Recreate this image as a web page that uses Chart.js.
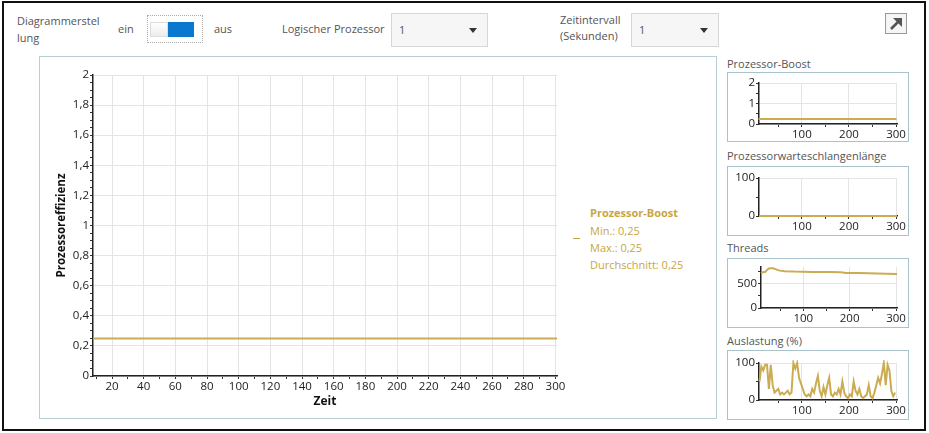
<!DOCTYPE html>
<html lang="de">
<head>
<meta charset="utf-8">
<script src="https://cdn.jsdelivr.net/npm/chart.js@4.4.0/dist/chart.umd.min.js"></script>
<style>
  body { margin: 0; width: 929px; height: 433px; overflow: hidden; background: #fff;
         font-family: "Open Sans", sans-serif; font-size: 11px; color: #555; }
  .abs { position: absolute; }
  .rahmen { left: 2px; top: 1px; width: 924px; height: 430px; border: 2px solid #111; box-sizing: border-box; }
  .txt { position: absolute; white-space: nowrap; line-height: 16px; }
  .auswahl { position: absolute; top: 13px; height: 34px; border: 1px solid #d6d6d6; background: #f6f6f6; box-sizing: border-box; }
  .auswahl span { position: absolute; left: 7px; top: 8px; color: #555; }
  .auswahl i { position: absolute; right: 10px; top: 14px; width: 0; height: 0;
               border-left: 4px solid transparent; border-right: 4px solid transparent; border-top: 5px solid #333; }
  .panel { position: absolute; left: 39px; top: 56px; width: 678px; height: 363px; border: 1px solid #b9cdd5; box-sizing: border-box; }
  .box { position: absolute; left: 727px; width: 182px; height: 70px; border: 1px solid #a9c3cd; box-sizing: border-box; }
  .box div { position: absolute; left: 0; top: 0; width: 180px; height: 68px; }
  .boxtitel { position: absolute; left: 727px; color: #555; }
  .legende { position: absolute; left: 590px; color: #c8a640; line-height: 17px; }
</style>
</head>
<body>
<div class="abs rahmen"></div>

<div class="txt" style="left:17px; top:13px;">Diagrammerstel</div>
<div class="txt" style="left:17px; top:30px;">lung</div>
<div class="txt" style="left:118px; top:21px;">ein</div>
<div class="abs" style="left:147px; top:15px; width:56px; height:28px; border:1px dotted #aaa; box-sizing:border-box;"></div>
<div class="abs" style="left:150px; top:22px; width:18px; height:15px; border:1px solid #ddd; box-sizing:border-box; background:linear-gradient(#fff,#ececec);"></div>
<div class="abs" style="left:168px; top:22px; width:26px; height:15px; background:#0a78cf;"></div>
<div class="txt" style="left:214px; top:21px;">aus</div>
<div class="txt" style="left:282px; top:21px;">Logischer Prozessor</div>
<div class="auswahl" style="left:391px; width:97px;"><span>1</span><i></i></div>
<div class="txt" style="left:560px; top:12px;">Zeitintervall</div>
<div class="txt" style="left:560px; top:28px;">(Sekunden)</div>
<div class="auswahl" style="left:631px; width:88px;"><span>1</span><i></i></div>
<div class="abs" style="left:885px; top:13px; width:22px; height:21px; border:1px solid #999; box-sizing:border-box; background:#f5f5f5;">
  <svg width="20" height="19" viewBox="0 0 20 19">
    <line x1="5" y1="15" x2="14" y2="6" stroke="#555" stroke-width="2.6"/>
    <polygon points="7,4 16,4 16,13" fill="#555"/>
  </svg>
</div>

<div class="panel"></div>
<div class="abs" style="left:42px; top:58px; width:530px; height:356px;"><canvas id="hauptDiagramm"></canvas></div>

<div class="abs" style="left:573px; top:238px; width:7px; height:1px; background:#c8a640;"></div>
<div class="legende" style="top:204px; font-weight:bold;">Prozessor-Boost</div>
<div class="legende" style="top:222px;">Min.: 0,25</div>
<div class="legende" style="top:239px;">Max.: 0,25</div>
<div class="legende" style="top:256px;">Durchschnitt: 0,25</div>

<div class="boxtitel txt" style="top:56px;">Prozessor-Boost</div>
<div class="box" style="top:72px;"><div><canvas id="boostKlein"></canvas></div></div>
<div class="boxtitel txt" style="top:148px;">Prozessorwarteschlangenlänge</div>
<div class="box" style="top:166px;"><div><canvas id="warteKlein"></canvas></div></div>
<div class="boxtitel txt" style="top:240px;">Threads</div>
<div class="box" style="top:258px;"><div><canvas id="threadsKlein"></canvas></div></div>
<div class="boxtitel txt" style="top:333px;">Auslastung (%)</div>
<div class="box" style="top:350px;"><div><canvas id="auslastungKlein"></canvas></div></div>

<script>
// Daten
const zeitTicks = [20, 40, 60, 80, 100, 120, 140, 160, 180, 200, 220, 240, 260, 280, 300];
const effizienzTicks = [0, 0.2, 0.4, 0.6, 0.8, 1, 1.2, 1.4, 1.6, 1.8, 2];

const boostZeit = [8, 301];
const boostWerte = [0.25, 0.25];

const warteZeit = [9, 302];
const warteWerte = [0, 0];

const threadsZeit = [9, 14, 18, 22, 26, 30, 34, 38, 44, 50, 60, 80, 100, 120, 140, 160, 180, 186, 190, 200, 220, 240, 260, 280, 302];
const threadsWerte = [720, 745, 745, 790, 820, 825, 825, 815, 790, 775, 762, 755, 753, 748, 745, 745, 742, 738, 728, 726, 724, 720, 716, 712, 706];

const auslastungZeit = [10, 14, 18, 22, 26, 30, 34, 38, 42, 46, 50, 54, 58, 62, 66, 70, 74, 78, 82, 86, 90, 94, 98,
  102, 106, 110, 114, 118, 122, 126, 130, 134, 138, 142, 146, 150, 154, 158, 162, 166, 170, 174, 178, 182, 186, 190, 194, 198,
  202, 206, 210, 214, 218, 222, 226, 230, 234, 238, 242, 246, 250, 254, 258, 262, 266, 270, 274, 278, 282, 286, 290, 294, 298];
const auslastungWerte = [50, 90, 80, 95, 95, 30, 95, 40, 20, 25, 30, 15, 20, 15, 20, 25, 15, 20, 100, 85, 100, 60, 45,
  30, 15, 10, 15, 10, 30, 20, 45, 65, 25, 10, 35, 15, 40, 60, 15, 10, 20, 15, 30, 15, 50, 20, 10, 5,
  15, 10, 50, 25, 15, 30, 10, 5, 10, 15, 40, 10, 5, 20, 40, 60, 45, 70, 100, 40, 95, 80, 25, 10, 20];

const kleinZeitTicks = [100, 200, 300];
const boostKleinTicks = [0, 1, 2];
const warteTicks = [0, 100];
const threadsTicks = [0, 500];
const auslastungTicks = [0, 100];

const gold = '#cbac52';
Chart.defaults.font.family = "'Open Sans', sans-serif";
Chart.defaults.font.size = 11.5;
Chart.defaults.color = '#222';

function punkte(xs, ys) {
  return xs.map((x, i) => ({ x: x, y: ys[i] }));
}

// Haupt- und Nebenstriche zusammen bauen
function tickListe(major, min, max, schritt) {
  let liste = [];
  for (let v = min; v <= max + 1e-9; v += schritt) {
    let r = Math.round(v * 1000) / 1000;
    liste.push({ value: r, maj: major.some(m => Math.abs(m - r) < 1e-6) });
  }
  return liste;
}

function komma(v) {
  return String(Math.round(v * 100) / 100).replace('.', ',');
}

function achse(min, max, ticks, breite, hoehe) {
  return {
    type: 'linear', min: min, max: max,
    afterBuildTicks: s => { s.ticks = ticks; },
    afterFit: s => { if (breite) s.width = breite; if (hoehe) s.height = hoehe; },
    grid: {
      color: ctx => (ctx.tick && ctx.tick.maj) ? '#e4e4e4' : 'rgba(0,0,0,0)',
      tickColor: '#333', tickLength: 3, lineWidth: 1
    },
    border: { color: '#222', width: 1.5 },
    ticks: {
      padding: 1, autoSkip: false, maxRotation: 0, color: '#222',
      callback: (v, i, t) => t[i].maj ? komma(v) : ''
    }
  };
}

let xHaupt = achse(8, 301, tickListe(zeitTicks, 10, 300, 10), null, 38);
xHaupt.title = { display: true, text: 'Zeit', color: '#111', font: { weight: 'bold', size: 12 }, padding: { top: 0, bottom: 5 } };
let yHaupt = achse(0, 2, tickListe(effizienzTicks, 0, 2, 0.05), 51, null);
yHaupt.title = { display: true, text: 'Prozessoreffizienz', color: '#111', font: { weight: 'bold', size: 11.5 }, padding: { top: 13, bottom: 0 } };

new Chart(document.getElementById('hauptDiagramm'), {
  type: 'line',
  data: { datasets: [{ data: punkte(boostZeit, boostWerte), borderColor: gold, borderWidth: 2, pointRadius: 0 }] },
  options: {
    animation: false, responsive: true, maintainAspectRatio: false,
    layout: { padding: { top: 17, right: 15, left: 0, bottom: 0 } },
    plugins: { legend: { display: false }, tooltip: { enabled: false } },
    scales: { x: xHaupt, y: yHaupt }
  }
});

function kleinesDiagramm(id, zeit, werte, yMax, yLabels, yNeben, oben, xHoehe, yBreite) {
  new Chart(document.getElementById(id), {
    type: 'line',
    data: { datasets: [{ data: punkte(zeit, werte), borderColor: gold, borderWidth: 2, pointRadius: 0, tension: 0, clip: 3 }] },
    options: {
      animation: false, responsive: true, maintainAspectRatio: false,
      layout: { padding: { top: oben, right: 11, left: 0, bottom: 0 } },
      plugins: { legend: { display: false }, tooltip: { enabled: false } },
      scales: {
        x: achse(9, 302, tickListe(kleinZeitTicks, 50, 300, 50), null, xHoehe),
        y: achse(0, yMax, tickListe(yLabels, 0, yMax, yNeben), yBreite, null)
      }
    }
  });
}

kleinesDiagramm('boostKlein', boostZeit, boostWerte, 2, boostKleinTicks, 0.5, 10, 17, 31);
kleinesDiagramm('warteKlein', warteZeit, warteWerte, 100, warteTicks, 50, 11, 19, 31);
kleinesDiagramm('threadsKlein', threadsZeit, threadsWerte, 850, threadsTicks, 250, 8, 19, 33);
kleinesDiagramm('auslastungKlein', auslastungZeit, auslastungWerte, 100, auslastungTicks, 50, 12, 19, 31);
</script>
</body>
</html>
